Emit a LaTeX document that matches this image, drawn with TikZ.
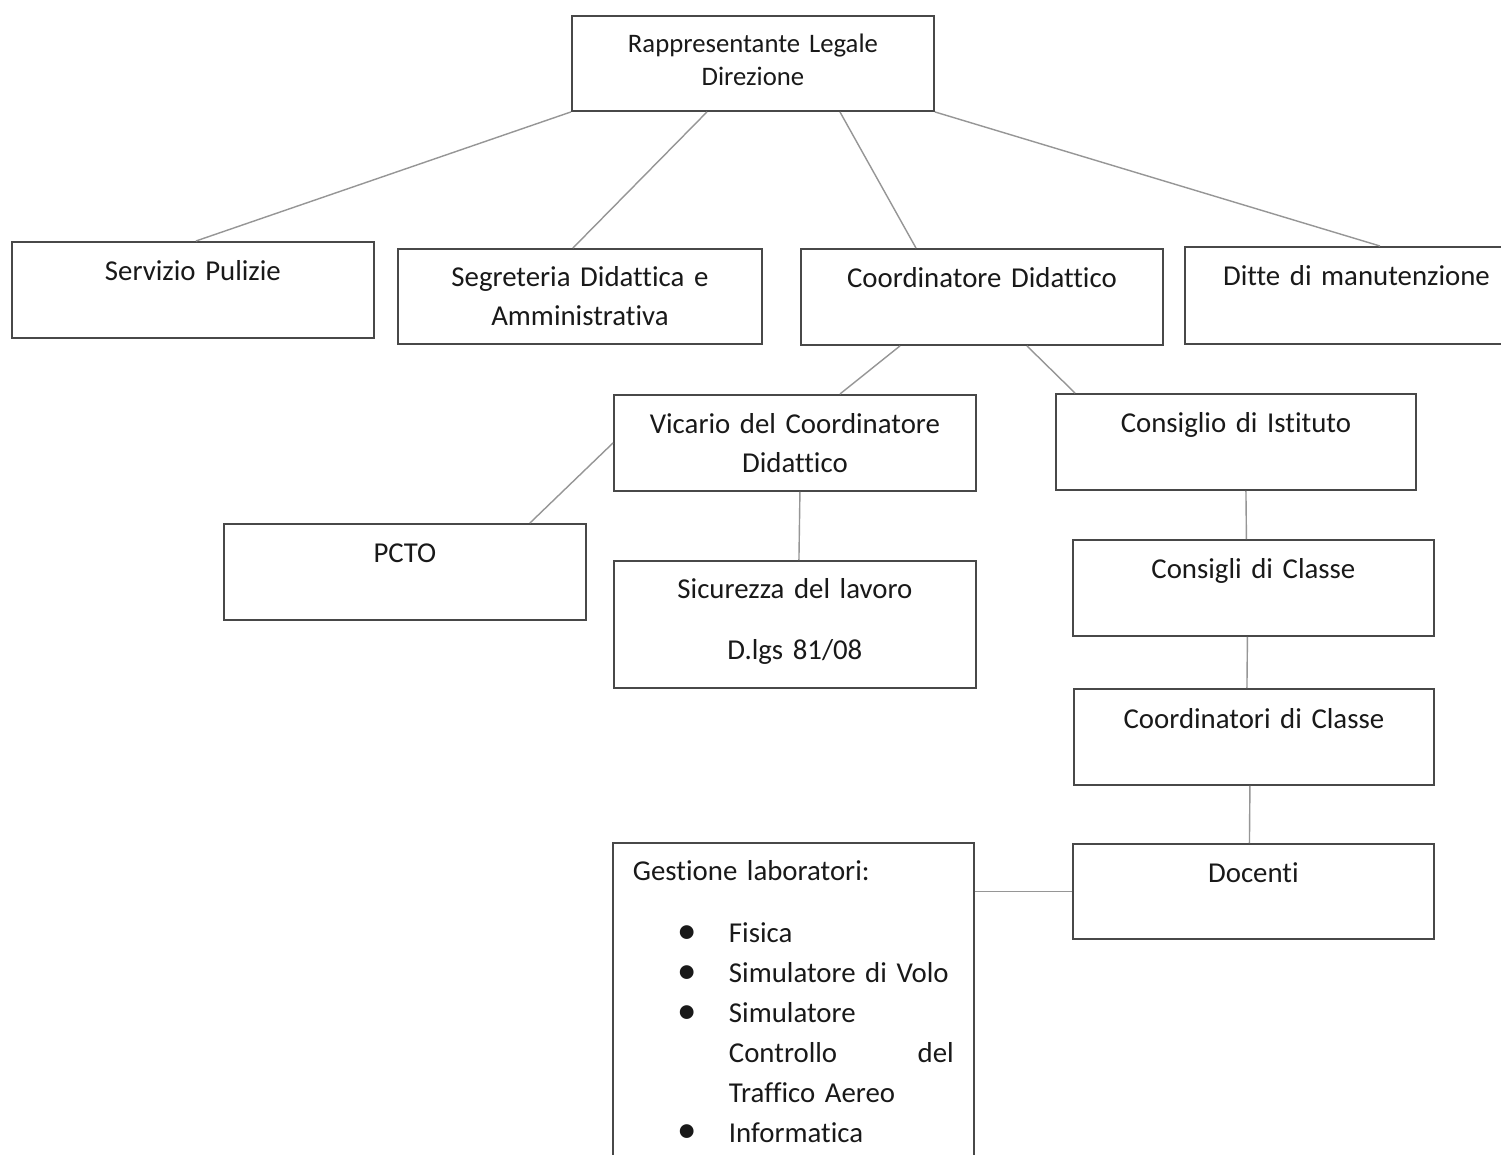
\documentclass[tikz,border=0pt]{standalone}
\usepackage{fontspec}
\setmainfont{Carlito}[Ligatures=CommonOff]
\usepackage{graphicx}

\definecolor{boxgray}{RGB}{72,72,72}
\definecolor{linkgray}{RGB}{150,150,150}
\definecolor{inkblack}{RGB}{25,25,25}

\newcommand{\bodyfont}{\fontsize{16.4}{22.2}\selectfont}
\newcommand{\headfont}{\fontsize{15.2}{18.8}\selectfont}
\newcommand{\labfont}{\fontsize{16.4}{22.7}\selectfont}
\newcommand{\labbullet}{\raisebox{-0.02em}{\scalebox{1.35}{\textbullet}}}
\newcommand{\labitem}[1]{\hspace*{0.9cm}\makebox[1.02cm][l]{\labbullet}#1}
\newcommand{\labcont}[1]{\hspace*{1.92cm}#1}

\begin{document}
\begin{tikzpicture}[x=0.02cm, y=-0.02cm,
    orgbox/.style={draw=boxgray, line width=1.1pt, anchor=north west, inner sep=0pt,
      text width=7.24cm, align=center, text=inkblack,
      font=\bodyfont, text height=0.78cm, text depth=1.14cm},
    link/.style={draw=linkgray, line width=0.8pt}]
    \useasboundingbox (0,0) rectangle (1501,1154);
    \fill[white] (0,0) rectangle (1501,1154);
    \clip (0,0) rectangle (1501,1154);

    % top
    \node[orgbox, font=\headfont, text height=0.74cm, text depth=1.16cm] (dir) at (571,15) {Rappresentante Legale\\Direzione};

    % second row
    \node[orgbox] (serv) at (11,241) {Servizio Pulizie};
    \node[orgbox, text width=7.28cm, text height=0.76cm] (segr) at (397,248) {Segreteria Didattica e\\Amministrativa};
    \node[orgbox] (coord) at (800,248) {Coordinatore Didattico};
    \node[orgbox, text width=6.86cm, text depth=1.16cm] (ditte) at (1184,246) {Ditte di manutenzione};

    % under the coordinator
    \node[orgbox] (vic) at (613,394) {Vicario del Coordinatore\\Didattico};
    \node[orgbox, text width=7.2cm] (cist) at (1055,393) {Consiglio di Istituto};
    \node[orgbox] (pcto) at (223,523) {PCTO};
    \node[orgbox, text height=0.76cm, text depth=1.78cm] (sic) at (613,560) {Sicurezza del lavoro\\[0.44cm]D.lgs 81/08};

    % class chain
    \node[orgbox, text width=7.22cm] (ccl) at (1072,539) {Consigli di Classe};
    \node[orgbox, text width=7.2cm, text height=0.80cm, text depth=1.12cm] (coordcl) at (1073,688) {Coordinatori di Classe};
    \node[orgbox, text width=7.22cm, text depth=1.12cm] (doc) at (1072,843) {Docenti};

    % labs
    \node[orgbox, align=left, inner xsep=0.4cm, text width=6.42cm, font=\labfont,
      text height=0.76cm, text depth=5.84cm] (gest) at (612,842) {Gestione laboratori:\\[0.44cm]
      \labitem{Fisica}\\
      \labitem{Simulatore di Volo}\\
      \labitem{Simulatore}\\
      \labcont{\makebox[4.5cm][l]{Controllo\hfill del}}\\
      \labcont{Traffico Aereo}\\
      \labitem{Informatica}};

    % connectors
    \draw[link] (dir.south west) -- ([xshift=0.06cm]serv.north);
    \draw[link] ([xshift=2.72cm]dir.south west) -- ([xshift=-0.14cm]segr.north);
    \draw[link] ([xshift=5.38cm]dir.south west) -- ([xshift=2.32cm]coord.north west);
    \draw[link] (dir.south east) -- ([xshift=3.92cm]ditte.north west);
    \draw[link] ([xshift=2cm]coord.south west) -- ([xshift=4.54cm]vic.north west);
    \draw[link] ([xshift=4.54cm]coord.south west) -- ([xshift=0.4cm]cist.north west);
    \draw[link] (vic.west) -- ([xshift=6.14cm]pcto.north west);
    \draw[link] ([xshift=0.1cm]vic.south) -- ([xshift=0.08cm]sic.north);
    \draw[link] ([xshift=0.2cm]cist.south) -- ([xshift=-0.14cm]ccl.north);
    \draw[link] ([xshift=-0.12cm]ccl.south) -- ([xshift=-0.14cm]coordcl.north);
    \draw[link] ([xshift=-0.08cm]coordcl.south) -- ([xshift=-0.08cm]doc.north);
    \draw[link] (doc.west -| gest.east) -- (doc.west);
\end{tikzpicture}
\end{document}
